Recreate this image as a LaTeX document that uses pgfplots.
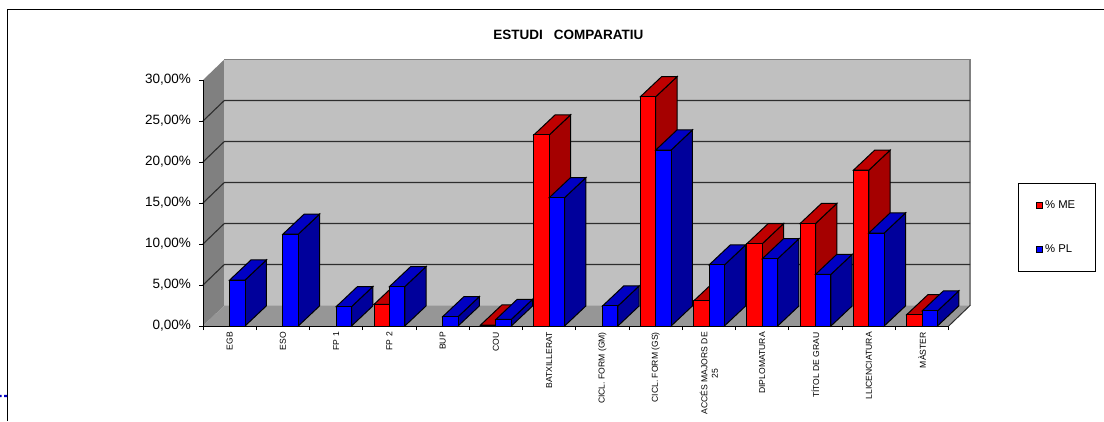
\documentclass[border=0pt]{standalone}
\usepackage{fontspec}
\setmainfont{Liberation Sans}
\usepackage{pgfplots}
\usepackage{pgfplotstable}
\pgfplotsset{compat=1.18}

\definecolor{wallback}{RGB}{192,192,192}
\definecolor{wallside}{RGB}{128,128,128}
\definecolor{wallfloor}{RGB}{150,150,150}
\definecolor{gridc}{RGB}{45,45,45}
\definecolor{redtop}{RGB}{192,0,0}
\definecolor{redside}{RGB}{165,0,0}
\definecolor{bluetop}{RGB}{0,0,196}
\definecolor{blueside}{RGB}{0,0,155}

% x = category centre, y = percent
\pgfplotstableread{
x    y
3.5  2.64
5.5  0.12
6.5  23.3
8.5  27.96
9.5  3.05
10.5 10.04
11.5 12.5
12.5 19.0
13.5 1.38
}\tableme
\pgfplotstableread{
x    y
0.5  5.6
1.5  11.2
2.5  2.36
3.5  4.8
4.5  1.14
5.5  0.81
6.5  15.65
7.5  2.44
8.5  21.46
9.5  7.44
10.5 8.2
11.5 6.3
12.5 11.34
13.5 1.83
}\tablepl

% top and side face of each bar: table, left offset, top colour, side colour
\newcommand\depthfaces[4]{%
  \pgfplotstablegetrowsof{#1}%
  \pgfmathtruncatemacro\lastrow{\pgfplotsretval-1}%
  \foreach \r in {0,...,\lastrow}{%
    \pgfplotstablegetelem{\r}{x}\of{#1}\let\xc\pgfplotsretval
    \pgfplotstablegetelem{\r}{y}\of{#1}\let\yv\pgfplotsretval
    \pgfmathsetmacro\xa{\xc+#2}%
    \pgfmathsetmacro\xb{\xa+0.289}%
    \pgfmathsetmacro\xaa{\xa+0.4}%
    \pgfmathsetmacro\xbb{\xb+0.4}%
    \pgfmathsetmacro\yt{\yv+2.45}%
    \edef\tmp{\noexpand\addplot[fill=#4,draw=black,line width=1pt,forget plot]
      coordinates {(\xb,0) (\xbb,2.45) (\xbb,\yt) (\xb,\yv)} -- cycle;
      \noexpand\addplot[fill=#3,draw=black,line width=1pt,forget plot]
      coordinates {(\xa,\yv) (\xaa,\yt) (\xbb,\yt) (\xb,\yv)} -- cycle;}%
    \tmp
  }%
}

\begin{document}
\begin{tikzpicture}[x=1pt,y=1pt]
\useasboundingbox (0,0) rectangle (1104,421);
\draw[line width=1pt] (7.5,0) -- (7.5,411.5) -- (1104,411.5);
\fill[blue!75!black] (0,23.8) rectangle (1.7,26.2) (4,23.8) rectangle (7.2,26.2);
\begin{axis}[
  at={(203pt,95pt)}, anchor=south west,
  scale only axis, width=745.7pt, height=246pt,
  xmin=0, xmax=14, ymin=0, ymax=30,
  clip=false, axis on top,
  axis x line*=bottom, axis y line*=left,
  axis line style={-,black,line width=1pt},
  tick style={black,line width=.9pt},
  tick align=outside, major tick length=4pt,
  xtick={0,...,14},
  x tick label as interval,
  xticklabels={EGB,ESO,FP 1,FP 2,BUP,COU,BATXILLERAT,CICL. FORM (GM),CICL. FORM (GS),{ACCÉS MAJORS DE\\25},DIPLOMATURA,TÍTOL DE GRAU,LLICENCIATURA,MÀSTER},
  x tick label style={rotate=90,anchor=east,align=center,font=\fontsize{8.6}{10.5}\selectfont,inner sep=2pt},
  ytick={0,5,...,30},
  yticklabel={\pgfmathprintnumber{\tick}\%},
  y tick label style={font=\fontsize{13.5}{15}\selectfont,inner sep=8pt,
    /pgf/number format/.cd,fixed,fixed zerofill,precision=2,use comma,assume math mode=true},
  title={\textbf{ESTUDI\hspace{11pt}COMPARATIU}},
  title style={at={(0.49,1.159)},anchor=center,font=\fontsize{13.5}{15}\selectfont},
  legend style={at={(1.0925,0.5813)},anchor=north west,draw=black,line width=1pt,
    font=\fontsize{11.3}{13}\selectfont,inner xsep=18pt,inner ysep=15pt,/tikz/row sep=31pt},
  legend cell align=left,
  legend image code/.code={\draw[#1,line width=.9pt] (0pt,-3pt) rectangle (6pt,3pt);},
]
% walls and floor
\addplot[fill=wallside,draw=none,forget plot] coordinates {(0,0) (0.4,2.5) (0.4,32.5) (0,30)} -- cycle;
\addplot[fill=wallback,draw=none,forget plot] coordinates {(0.4,2.5) (14.4,2.5) (14.4,32.5) (0.4,32.5)} -- cycle;
\addplot[fill=wallfloor,draw=none,forget plot] coordinates {(0,0) (14,0) (14.4,2.5) (0.4,2.5)} -- cycle;
\addplot[draw=wallside,line width=1.2pt,forget plot] coordinates {(0.4,32.5) (14.4,32.5) (14.4,2.5)};
\addplot[draw=gridc,line width=1pt,forget plot] coordinates {(14,0) (14.4,2.5)};
% gridlines
\foreach \v in {5,10,15,20,25}{
  \pgfmathsetmacro\w{\v+2.5}
  \edef\tmp{\noexpand\addplot[draw=gridc,line width=1.1pt,forget plot] coordinates {(0,\v) (0.4,\w) (14.4,\w)};}
  \tmp
}
% bars, red behind blue
\depthfaces{\tableme}{-0.289}{redtop}{redside}
\addplot[ybar,bar width=0.289,bar shift=-0.1445,fill=red,draw=black,line width=1pt] table[x=x,y=y] {\tableme};
\addlegendentry{\% ME}
\depthfaces{\tablepl}{0}{bluetop}{blueside}
\addplot[ybar,bar width=0.289,bar shift=0.1445,fill=blue,draw=black,line width=1pt] table[x=x,y=y] {\tablepl};
\addlegendentry{\% PL}
\end{axis}
\end{tikzpicture}
\end{document}
